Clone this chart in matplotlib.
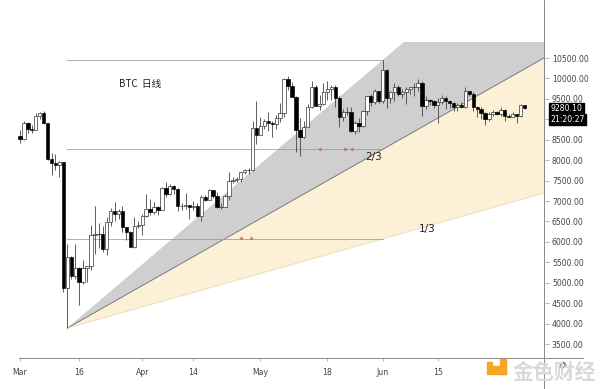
import numpy as np
import matplotlib.pyplot as plt
from matplotlib.patches import Rectangle
from matplotlib.lines import Line2D

# BTC 日线, 2020-03-01 .. 2020-07-07 (day index 0 = Mar 1)
first_open = 8600
closes = [8530, 8910, 8760, 8750, 9070, 9150, 8900, 8040, 7930, 7890, 7950, 4860, 5620, 5170, 5370, 5030,
          5360, 5400, 6180, 6200, 6190, 5830, 6490, 6760, 6690, 6750, 6370, 6250, 5880, 6400, 6420,
          6640, 6800, 6740, 6860, 6780, 7330, 7170, 7370, 7300, 6870, 6890, 6910, 6860, 6880, 6640,
          7110, 7030, 7260, 7130, 6850, 6860, 7130, 7490, 7510, 7540, 7700, 7770, 7760, 8780, 8620,
          8830, 8970, 8900, 8880, 9030, 9150, 9980, 9810, 9540, 8730, 8570, 8820, 9310, 9790, 9320,
          9380, 9670, 9730, 9780, 9510, 9060, 9170, 9180, 8720, 8900, 8840, 9200, 9580, 9430, 9700, 9450,
          10200, 9520, 9660, 9800, 9620, 9670, 9750, 9780, 9780, 9880, 9320, 9470, 9460, 9340, 9430,
          9520, 9460, 9400, 9300, 9360, 9290, 9690, 9630, 9290, 9250, 9160, 9010, 9120, 9190, 9140,
          9230, 9090, 9060, 9130, 9080, 9340, 9280]
highs = [8750, 8960, 8930, 8850, 9160, 9190, 9200, 8900, 8180, 8150, 7990, 7960, 5950, 5660, 5940, 5380,
         5560, 5420, 6410, 6880, 6450, 6400, 6600, 6840, 6980, 6800, 6870, 6370, 6260, 6600, 6520,
         6690, 7180, 7040, 6970, 6890, 7350, 7460, 7420, 7380, 7310, 6950, 7190, 6910, 6990, 6940,
         7150, 7150, 7290, 7260, 7220, 6940, 7160, 7710, 7590, 7590, 7720, 7780, 7800, 8950, 9460,
         9050, 9000, 9190, 8950, 9100, 9400, 10000, 10050, 9910, 9560, 9030, 8970, 9370, 9930, 9850,
         9590, 9880, 9940, 9850, 9830, 9560, 9260, 9310, 9300, 8970, 9020, 9230, 9580, 9610, 9740, 9700,
         10450, 10230, 9690, 9880, 9850, 9730, 9800, 9800, 9880, 9980, 9930, 9560, 9490, 9470, 9530,
         9590, 9560, 9480, 9430, 9400, 9420, 9780, 9700, 9670, 9320, 9290, 9180, 9190, 9230, 9200,
         9300, 9240, 9120, 9190, 9140, 9375, 9350]
lows = [8410, 8500, 8660, 8660, 8740, 9010, 8880, 8000, 7630, 7750, 7580, 4780, 3890, 5090, 5100, 4450,
        4980, 5020, 5300, 5700, 5860, 5750, 5690, 6400, 6500, 6550, 6250, 6040, 5870, 5860, 6340,
        6170, 6600, 6650, 6680, 6670, 6780, 7100, 7150, 7180, 6760, 6780, 6800, 6570, 6790, 6620,
        6500, 7000, 7030, 7070, 6830, 6800, 6850, 7020, 7450, 7460, 7470, 7650, 7670, 7740, 8400,
        8620, 8760, 8720, 8570, 8770, 8930, 9050, 9720, 9560, 8200, 8100, 8550, 8800, 9270, 9330,
        9220, 9350, 9480, 9470, 9290, 8820, 8950, 9100, 8700, 8640, 8700, 8800, 9110, 9330, 9370, 9400,
        9410, 9270, 9400, 9450, 9580, 9530, 9380, 9630, 9580, 9690, 9080, 9250, 9350, 9270, 8900,
        9370, 9260, 9280, 9210, 9200, 9280, 9280, 9580, 9210, 9050, 9000, 8850, 8950, 9080, 9100,
        9080, 8950, 9050, 9050, 8900, 9060, 9260]
opens = [first_open] + closes[:-1]

tick_days = [0, 15, 31, 44, 61, 78, 92, 106]
tick_names = ['Mar', '16', 'Apr', '14', 'May', '18', 'Jun', '15']
price_ticks = list(range(3500, 11000, 500))
hidden_price_label = 9000  # covered by the countdown box in the screenshot

# fan anchors: Mar 13 low -> Jun 1 high
fan_a = (12, 3890)
fan_b = (92, 10450)
last_price = 9280.10
countdown = '21:20:27'

fig = plt.figure(figsize=(6, 3.89), dpi=100)
ax = fig.add_axes([17 / 600, 31 / 389, 528 / 600, 316 / 389])
ax.set_xlim(-0.76, 133.2)
ax.set_ylim(3158, 10892)

days = np.arange(len(closes))
o = np.array(opens, dtype=float)
c = np.array(closes, dtype=float)
h = np.array(highs, dtype=float)
l = np.array(lows, dtype=float)

# speed resistance fan
ad, ap = fan_a
bd, bp = fan_b
span = bp - ap
xs = np.linspace(ad, 133.2, 50)
def fan(level):
    return ap + span * level * (xs - ad) / (bd - ad)
ax.fill_between(xs, fan(1.0), fan(2 / 3), color='#cfcfcf', lw=0, zorder=1)
ax.fill_between(xs, fan(2 / 3), fan(1 / 3), color='#fcf0d6', lw=0, zorder=1)
ax.plot(xs, fan(2 / 3), color='#777777', lw=0.7, zorder=2)
ax.plot(xs, fan(1 / 3), color='#eadcbc', lw=0.6, zorder=2)
for lvl in [1.0, 2 / 3, 1 / 3]:
    ax.plot([ad, bd], [ap + span * lvl] * 2, color='#a0a0a0', lw=0.6, zorder=2)
ax.text(89.6, 8077, '2/3', fontsize=7.5, color='#222222', ha='center', va='center', zorder=5)
ax.text(103.3, 6316, '1/3', fontsize=7.5, color='#222222', ha='center', va='center', zorder=5)

# small reddish marks on the level lines
ax.scatter([76, 82.5, 84.3], [8277, 8277, 8277], s=2, color='#c0605a', alpha=0.6, zorder=2)
ax.scatter([56, 58.5], [6083, 6083], s=2, color='#c0605a', alpha=0.6, zorder=2)

# candles
up = c >= o
ax.vlines(days, l, h, color='#444444', lw=0.6, zorder=3)
ax.bar(days[up], (c - o)[up], bottom=o[up], width=0.85, color='white', edgecolor='#222222', lw=0.45, zorder=4)
ax.bar(days[~up], (o - c)[~up], bottom=c[~up], width=0.85, color='black', edgecolor='black', lw=0.45, zorder=4)

ax.text(30.5, 9864, 'BTC  日线', fontsize=7, color='#222222', ha='center', va='center',
        family=['Noto Sans CJK SC', 'DejaVu Sans'])

# axes styling
for s in ax.spines.values():
    s.set_visible(False)
ax.yaxis.tick_right()
ax.set_yticks(price_ticks)
ax.set_yticklabels(['' if p == hidden_price_label else f'{p:.2f}' for p in price_ticks])
ax.tick_params(axis='y', length=3, width=0.5, color='#999999', labelsize=5.6, labelcolor='#444444', pad=2)
ax.set_xticks(tick_days)
ax.set_xticklabels(tick_names)
ax.tick_params(axis='x', length=2, width=0.5, color='#999999', labelsize=5.6, labelcolor='#444444', pad=5)

fig.add_artist(Line2D([19 / 600, 583 / 600], [31 / 389, 31 / 389], color='#888888', lw=0.7))
fig.add_artist(Line2D([544 / 600, 544 / 600], [0, 1], color='#888888', lw=0.7))

# last price / countdown labels
ax.annotate(f'{last_price:.2f}', xy=(1.0, last_price), xycoords=('axes fraction', 'data'),
            xytext=(4, -0.3), textcoords='offset points', fontsize=5.6, color='white', va='center',
            ha='left', bbox=dict(boxstyle='square,pad=0.15', fc='black', ec='black'), annotation_clip=False)
ax.annotate(countdown, xy=(1.0, last_price), xycoords=('axes fraction', 'data'),
            xytext=(4, -8.6), textcoords='offset points', fontsize=5.6, color='white', va='center',
            ha='left', bbox=dict(boxstyle='square,pad=0.15', fc='black', ec='black'), annotation_clip=False)

# watermark
fig.patches.append(Rectangle((487 / 600, 15 / 389), 19 / 600, 8 / 389, transform=fig.transFigure,
                             color='#f5a623', zorder=10))
fig.patches.append(Rectangle((500 / 600, 15 / 389), 6 / 600, 15 / 389, transform=fig.transFigure,
                             color='#f5a623', zorder=10))
fig.patches.append(Rectangle((487 / 600, 23 / 389), 5 / 600, 4 / 389, transform=fig.transFigure,
                             color='#f5a623', zorder=10))
fig.text(513 / 600, 17 / 389, '金色财经', fontsize=15, color='#d9d9d9', fontweight='bold',
         family=['Noto Sans CJK SC', 'DejaVu Sans'], va='center', ha='left')
# settings gear
gear = fig.add_axes([558 / 600, 19 / 389, 10 / 600, 10 / 389])
gear.axis('off')
gear.scatter([0], [0], marker=(8, 1, 0), s=22, facecolor='none', edgecolor='#555555', lw=0.6)

fig.savefig('out.png', dpi=100, facecolor='white')
